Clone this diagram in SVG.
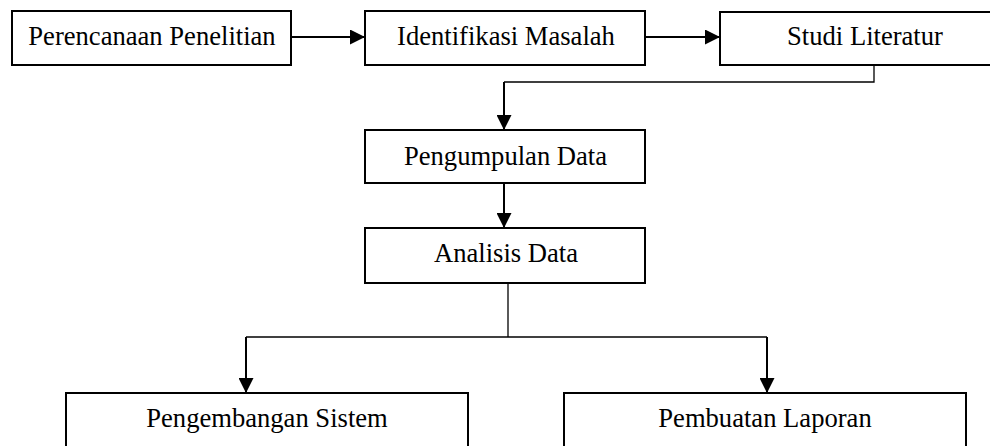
<svg xmlns="http://www.w3.org/2000/svg" width="990" height="446" viewBox="0 0 990 446">
  <style>
    .box { fill: #ffffff; stroke: #000000; stroke-width: 2; }
    .label { font-family: "Liberation Serif", "Times New Roman", serif; font-size: 26.6px; fill: #000000; text-anchor: middle; }
    .shaft { fill: none; stroke: #000000; stroke-width: 2; }
    .route { fill: none; stroke: #000000; stroke-width: 1.3; }
  </style>
  <defs>
    <marker id="head" viewBox="0 0 15 15" refX="15" refY="7.5" markerWidth="15" markerHeight="15" markerUnits="userSpaceOnUse" orient="auto">
      <path d="M0,0 L15,7.5 L0,15 Z" fill="#000000"/>
    </marker>
  </defs>
  <rect width="990" height="446" fill="#ffffff"/>

  <g id="connectors">
    <!-- top row -->
    <line class="shaft" x1="291" y1="37" x2="365" y2="37" marker-end="url(#head)"/>
    <line class="shaft" x1="645" y1="37" x2="720" y2="37" marker-end="url(#head)"/>
    <!-- Studi Literatur down to Pengumpulan Data -->
    <polyline class="route" points="874,65 874,82 504,82"/>
    <line class="shaft" x1="504" y1="82" x2="504" y2="130" marker-end="url(#head)"/>
    <!-- Pengumpulan Data to Analisis Data -->
    <line class="shaft" x1="504" y1="183" x2="504" y2="228" marker-end="url(#head)"/>
    <!-- Analisis Data split -->
    <polyline class="route" points="508,283 508,337"/>
    <polyline class="route" points="246,337 767,337"/>
    <line class="shaft" x1="246" y1="337" x2="246" y2="393" marker-end="url(#head)"/>
    <line class="shaft" x1="767" y1="337" x2="767" y2="393" marker-end="url(#head)"/>
  </g>

  <g id="perencanaan">
    <rect class="box" x="12" y="11" width="279" height="54"/>
    <text class="label" x="152" y="45">Perencanaan Penelitian</text>
  </g>
  <g id="identifikasi">
    <rect class="box" x="365" y="11" width="280" height="54"/>
    <text class="label" x="506" y="45">Identifikasi Masalah</text>
  </g>
  <g id="studi">
    <rect class="box" x="720" y="12" width="290" height="53"/>
    <text class="label" x="865" y="45">Studi Literatur</text>
  </g>
  <g id="pengumpulan">
    <rect class="box" x="365" y="130" width="280" height="53"/>
    <text class="label" x="505.5" y="165">Pengumpulan Data</text>
  </g>
  <g id="analisis">
    <rect class="box" x="365" y="228" width="280" height="55"/>
    <text class="label" x="506" y="262">Analisis Data</text>
  </g>
  <g id="pengembangan">
    <rect class="box" x="66" y="393" width="402" height="70"/>
    <text class="label" x="267" y="427">Pengembangan Sistem</text>
  </g>
  <g id="pembuatan">
    <rect class="box" x="564" y="393" width="402" height="70"/>
    <text class="label" x="765" y="427">Pembuatan Laporan</text>
  </g>
</svg>
